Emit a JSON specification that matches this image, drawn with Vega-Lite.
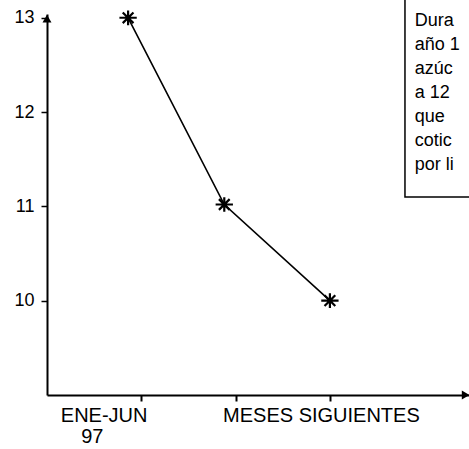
{
  "$schema": "https://vega.github.io/schema/vega-lite/v6.json",
  "autosize": "none",
  "width": 422,
  "height": 381,
  "padding": {"left": 47, "top": 14, "right": 0, "bottom": 54},
  "background": "white",
  "config": {
    "view": {"stroke": null},
    "font": "Liberation Sans",
    "text": {"font": "Liberation Sans", "color": "black"}
  },
  "datasets": {
    "series": [
      {"periodo": 0.86, "precio": 13.0},
      {"periodo": 1.88, "precio": 11.02},
      {"periodo": 3.0, "precio": 10.0}
    ],
    "xlabels": [
      {"periodo": 0.606, "precio": 8.71, "texto": "ENE-JUN"},
      {"periodo": 0.48, "precio": 8.49, "texto": "97"},
      {"periodo": 2.91, "precio": 8.71, "texto": "MESES SIGUIENTES"}
    ],
    "note": [
      {"periodo": 3.9, "precio": 12.913, "texto": "Dura"},
      {"periodo": 3.9, "precio": 12.658, "texto": "año 1"},
      {"periodo": 3.9, "precio": 12.404, "texto": "azúc"},
      {"periodo": 3.9, "precio": 12.149, "texto": "a 12"},
      {"periodo": 3.9, "precio": 11.895, "texto": "que"},
      {"periodo": 3.9, "precio": 11.64, "texto": "cotic"},
      {"periodo": 3.9, "precio": 11.386, "texto": "por li"}
    ],
    "box": [{"x1": 3.796, "x2": 4.8, "y1": 13.3, "y2": 11.1}],
    "arrowUp": [{"periodo": 0, "precio": 12.99}],
    "arrowRight": [{"periodo": 4.44, "precio": 9}]
  },
  "layer": [
    {
      "data": {"name": "box"},
      "mark": {"type": "rect", "fill": "white", "stroke": "black", "strokeWidth": 1.5},
      "encoding": {
        "x": {"field": "x1", "type": "quantitative", "scale": {"domain": [0, 4.475], "nice": false, "zero": false}, "axis": {"values": [1, 2, 3], "labels": false, "title": null, "grid": false, "domainColor": "black", "domainWidth": 2, "tickColor": "black", "tickWidth": 2, "tickSize": 6}},
        "x2": {"field": "x2"},
        "y": {"field": "y1", "type": "quantitative", "scale": {"domain": [9, 13.04], "nice": false, "zero": false}, "axis": {"values": [10, 11, 12, 13], "format": "d", "title": null, "grid": false, "domainColor": "black", "domainWidth": 2, "tickColor": "black", "tickWidth": 1.5, "tickSize": 6, "labelFont": "Liberation Sans", "labelFontSize": 18, "labelColor": "black", "labelPadding": 7}},
        "y2": {"field": "y2"}
      }
    },
    {
      "data": {"name": "note"},
      "mark": {"type": "text", "align": "left", "baseline": "alphabetic", "fontSize": 18},
      "encoding": {
        "x": {"field": "periodo", "type": "quantitative"},
        "y": {"field": "precio", "type": "quantitative"},
        "text": {"field": "texto"}
      }
    },
    {
      "data": {"name": "series"},
      "mark": {"type": "line", "color": "black", "strokeWidth": 1.6},
      "encoding": {
        "x": {"field": "periodo", "type": "quantitative"},
        "y": {"field": "precio", "type": "quantitative"}
      }
    },
    {
      "data": {"name": "series"},
      "mark": {"type": "point", "shape": "M-1,0H1M0,-0.85V0.85M-0.62,-0.62L0.62,0.62M-0.62,0.62L0.62,-0.62", "filled": false, "stroke": "black", "strokeWidth": 2.2, "size": 300, "opacity": 1},
      "encoding": {
        "x": {"field": "periodo", "type": "quantitative"},
        "y": {"field": "precio", "type": "quantitative"}
      }
    },
    {
      "data": {"name": "arrowUp"},
      "mark": {"type": "point", "shape": "triangle-up", "filled": true, "color": "black", "size": 80, "opacity": 1},
      "encoding": {
        "x": {"field": "periodo", "type": "quantitative"},
        "y": {"field": "precio", "type": "quantitative"}
      }
    },
    {
      "data": {"name": "arrowRight"},
      "mark": {"type": "point", "shape": "triangle-right", "filled": true, "color": "black", "size": 80, "opacity": 1},
      "encoding": {
        "x": {"field": "periodo", "type": "quantitative"},
        "y": {"field": "precio", "type": "quantitative"}
      }
    },
    {
      "data": {"name": "xlabels"},
      "mark": {"type": "text", "align": "center", "baseline": "alphabetic", "fontSize": 20},
      "encoding": {
        "x": {"field": "periodo", "type": "quantitative"},
        "y": {"field": "precio", "type": "quantitative"},
        "text": {"field": "texto"}
      }
    }
  ]
}
